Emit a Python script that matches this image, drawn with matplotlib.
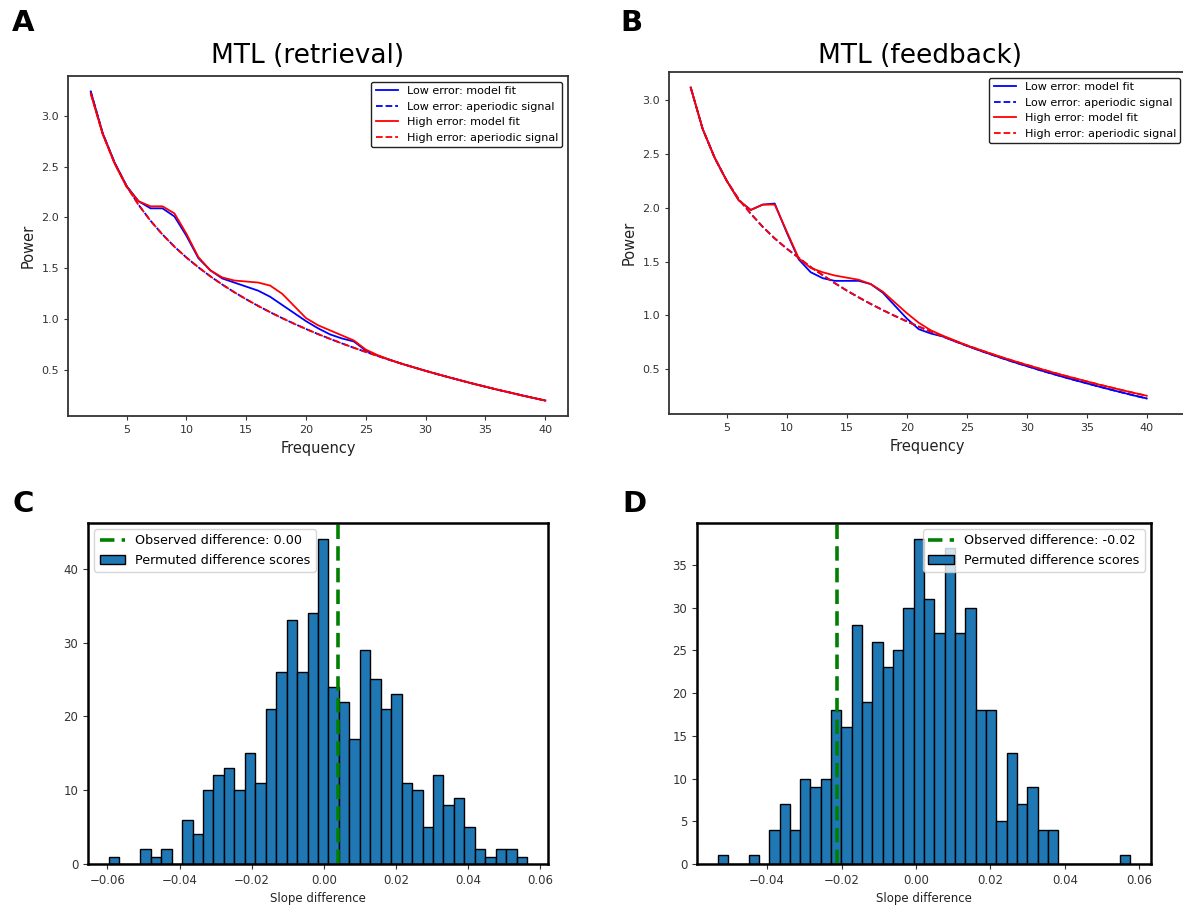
"""Four-panel figure: MTL spectral fits (A, B) and slope-difference permutation histograms (C, D)."""
import matplotlib

matplotlib.use("Agg")
import matplotlib.pyplot as plt
import numpy as np

# ---- data -----------------------------------------------------------------
freqs = list(range(2, 41))

# panel A: MTL (retrieval)
ret_low_fit = [3.24, 2.83, 2.54, 2.31, 2.16, 2.09, 2.09, 2.01, 1.82, 1.60, 1.48, 1.40, 1.36,
               1.32, 1.28, 1.22, 1.14, 1.06, 0.98, 0.91, 0.85, 0.81, 0.78, 0.69, 0.64, 0.60,
               0.561, 0.526, 0.491, 0.458, 0.426, 0.395, 0.364, 0.335, 0.306, 0.279, 0.251,
               0.225, 0.199]
ret_low_ap = [3.24, 2.828, 2.536, 2.310, 2.125, 1.968, 1.833, 1.713, 1.606, 1.510, 1.421,
              1.340, 1.265, 1.195, 1.130, 1.068, 1.010, 0.955, 0.903, 0.853, 0.806, 0.761,
              0.718, 0.677, 0.637, 0.598, 0.561, 0.526, 0.491, 0.458, 0.426, 0.395, 0.364,
              0.335, 0.306, 0.279, 0.251, 0.225, 0.199]
ret_high_fit = [3.22, 2.82, 2.53, 2.30, 2.16, 2.11, 2.11, 2.04, 1.84, 1.61, 1.48, 1.41, 1.38,
                1.37, 1.36, 1.33, 1.25, 1.13, 1.01, 0.94, 0.89, 0.84, 0.79, 0.70, 0.645, 0.60,
                0.561, 0.526, 0.491, 0.458, 0.426, 0.395, 0.364, 0.335, 0.306, 0.279, 0.251,
                0.225, 0.199]
ret_high_ap = [3.22, 2.822, 2.532, 2.307, 2.123, 1.967, 1.832, 1.712, 1.606, 1.510, 1.421,
               1.340, 1.265, 1.195, 1.130, 1.068, 1.010, 0.955, 0.903, 0.853, 0.806, 0.761,
               0.718, 0.677, 0.637, 0.598, 0.561, 0.526, 0.491, 0.458, 0.426, 0.395, 0.364,
               0.335, 0.306, 0.279, 0.251, 0.225, 0.199]

# panel B: MTL (feedback)
fb_low_fit = [3.12, 2.733, 2.465, 2.252, 2.07, 1.98, 2.03, 2.04, 1.77, 1.52, 1.40, 1.345,
              1.32, 1.32, 1.32, 1.29, 1.21, 1.09, 0.97, 0.87, 0.83, 0.802, 0.758, 0.716,
              0.675, 0.636, 0.598, 0.561, 0.527, 0.492, 0.459, 0.427, 0.396, 0.366, 0.336,
              0.307, 0.279, 0.251, 0.225]
fb_low_ap = [3.12, 2.733, 2.465, 2.252, 2.080, 1.946, 1.823, 1.715, 1.620, 1.535, 1.448,
             1.373, 1.299, 1.230, 1.166, 1.105, 1.048, 0.994, 0.943, 0.894, 0.847, 0.802,
             0.758, 0.716, 0.675, 0.636, 0.598, 0.561, 0.527, 0.492, 0.459, 0.427, 0.396,
             0.366, 0.336, 0.307, 0.279, 0.251, 0.225]
fb_high_fit = [3.12, 2.733, 2.465, 2.252, 2.07, 1.98, 2.03, 2.03, 1.78, 1.53, 1.44, 1.40,
               1.37, 1.35, 1.33, 1.29, 1.22, 1.12, 1.02, 0.93, 0.86, 0.81, 0.765, 0.720,
               0.681, 0.643, 0.606, 0.571, 0.538, 0.505, 0.473, 0.442, 0.413, 0.384, 0.355,
               0.328, 0.301, 0.275, 0.250]
fb_high_ap = [3.12, 2.733, 2.465, 2.252, 2.080, 1.946, 1.823, 1.715, 1.620, 1.535, 1.448,
              1.373, 1.299, 1.230, 1.166, 1.105, 1.048, 0.994, 0.943, 0.894, 0.847, 0.803,
              0.761, 0.720, 0.681, 0.643, 0.606, 0.571, 0.538, 0.505, 0.473, 0.442, 0.413,
              0.384, 0.355, 0.328, 0.301, 0.275, 0.250]

# panel C: permutation counts, 40 bins
ret_range = (-0.0596, 0.0564)
ret_counts = [1, 0, 0, 2, 1, 2, 0, 6, 4, 10, 12, 13, 10, 15, 11, 21, 26, 33, 26, 34,
              44, 24, 22, 17, 29, 25, 21, 23, 11, 10, 5, 12, 8, 9, 5, 2, 1, 2, 2, 1]
ret_observed = 0.004

# panel D
fb_range = (-0.0533, 0.0576)
fb_counts = [1, 0, 0, 1, 0, 4, 7, 4, 10, 9, 10, 18, 16, 28, 19, 26, 23, 25, 30, 38,
             31, 27, 37, 27, 30, 18, 18, 5, 13, 7, 9, 4, 4, 0, 0, 0, 0, 0, 0, 1]
fb_observed = -0.0211

W, H = 1183, 906
fig = plt.figure(figsize=(W / 100, H / 100), dpi=100)


def box(l, t, r, b):
    return [l / W, 1 - b / H, (r - l) / W, (b - t) / H]


def spectra_panel(rect, low_fit, low_ap, high_fit, high_ap, xlim=None):
    ax = fig.add_axes(rect)
    ax.plot(freqs, low_fit, color="blue", lw=1.3, label="Low error: model fit")
    ax.plot(freqs, low_ap, color="blue", lw=1.3, ls="--", label="Low error: aperiodic signal")
    ax.plot(freqs, high_fit, color="red", lw=1.3, label="High error: model fit")
    ax.plot(freqs, high_ap, color="red", lw=1.3, ls="--", label="High error: aperiodic signal")
    if xlim:
        ax.set_xlim(*xlim)
    ax.set_xlabel("Frequency", fontsize=10.5, color="#222222")
    ax.set_ylabel("Power", fontsize=10.5, color="#222222")
    ax.tick_params(labelsize=8, colors="#333333", length=3)
    for s in ax.spines.values():
        s.set_color("#333333")
        s.set_linewidth(1.3)
    leg = ax.legend(loc="upper right", fontsize=8, fancybox=True, framealpha=1)
    leg.get_frame().set_edgecolor("#222222")
    return ax


def hist_panel(rect, counts, rng, observed, label, loc):
    ax = fig.add_axes(rect)
    edges = np.linspace(rng[0], rng[1], len(counts) + 1)
    centers = (edges[:-1] + edges[1:]) / 2
    _, _, bars = ax.hist(centers, bins=edges, weights=counts, color="#1f77b4",
                         edgecolor="black", linewidth=1.0)
    line = ax.axvline(observed, color="green", ls="--", lw=2.6, dashes=(4, 2))
    ax.set_xlabel("Slope difference", fontsize=8.5, color="#222222")
    ax.tick_params(labelsize=8.5, colors="#333333", length=3.5)
    for s in ax.spines.values():
        s.set_color("black")
        s.set_linewidth(1.8)
    ax.legend([line, bars[0]], [label, "Permuted difference scores"], loc=loc,
              fontsize=9.2, framealpha=0.8)
    return ax


spectra_panel(box(68, 76, 568, 416), ret_low_fit, ret_low_ap, ret_high_fit, ret_high_ap)
spectra_panel(box(669, 72, 1186, 414), fb_low_fit, fb_low_ap, fb_high_fit, fb_high_ap,
              xlim=(0.19, 43.27))
hist_panel(box(88, 523, 548, 864), ret_counts, ret_range, ret_observed,
           "Observed difference: 0.00", "upper left")
hist_panel(box(697, 523, 1151, 864), fb_counts, fb_range, fb_observed,
           "Observed difference: -0.02", "upper right")

fig.text(308 / W, 1 - 63 / H, "MTL (retrieval)", fontsize=19, ha="center", va="baseline")
fig.text(920 / W, 1 - 63 / H, "MTL (feedback)", fontsize=19, ha="center", va="baseline")
for letter, x, y in [("A", 12, 31), ("B", 620, 31), ("C", 12, 512), ("D", 622, 512)]:
    fig.text(x / W, 1 - y / H, letter, fontsize=21, fontweight="bold", va="baseline")

fig.savefig("out.png", dpi=100)
plt.close(fig)
